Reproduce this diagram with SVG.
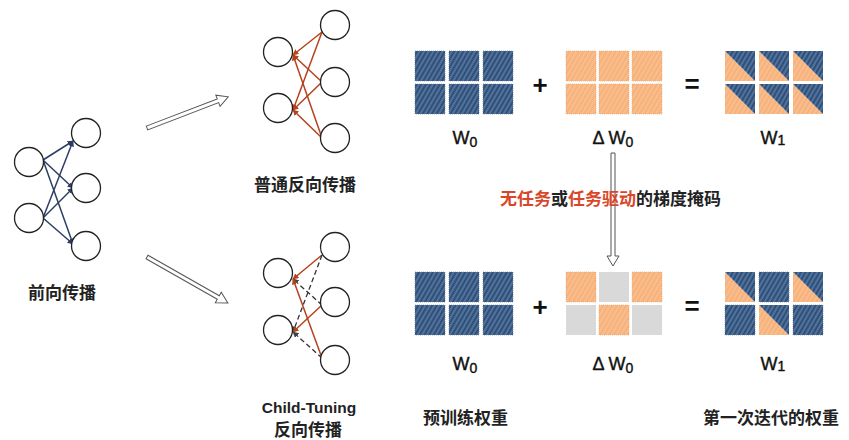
<svg xmlns="http://www.w3.org/2000/svg" width="849" height="440" viewBox="0 0 849 440">
<style>
.node{fill:#fff;stroke:#222;stroke-width:1.3}
.fwd{stroke:#2c3e63;stroke-width:1.5;fill:none;marker-end:url(#mNavy)}
.bwd{stroke:#b5421c;stroke-width:1.5;fill:none;marker-end:url(#mRed)}
.dash{stroke:#333;stroke-width:1.3;fill:none;stroke-dasharray:5 3;marker-end:url(#mGrey)}
.big{fill:#fff;stroke:#555;stroke-width:1}
.cj{font-family:"Noto Sans CJK SC","Noto Sans",sans-serif;font-weight:bold;font-size:17px;fill:#222}
.lat{font-family:"Liberation Sans",Arial,sans-serif;font-size:18px;fill:#111;stroke:#111;stroke-width:0.4}
.ct{font-family:"Liberation Sans",Arial,sans-serif;font-size:15.5px;font-weight:bold;fill:#222}
.red{fill:#d9472b}
.b{fill:url(#hb);stroke:#5b7aa0;stroke-width:0.6;stroke-dasharray:1 1}
.o{fill:url(#ho);stroke:#e8a06a;stroke-width:0.6;stroke-dasharray:1 1}
.g{fill:#d9d9d9}
.tb{fill:url(#hb)}
.to{fill:url(#ho)}
.op{font-family:"Liberation Sans",Arial,sans-serif;font-size:26px;font-weight:bold;fill:#111}
</style>
<defs>
<pattern id="hb" patternUnits="userSpaceOnUse" width="4" height="4" patternTransform="rotate(30)">
<rect width="4" height="4" fill="#30507a"/>
<line x1="1" y1="0" x2="1" y2="4" stroke="#8fb0d6" stroke-width="0.7"/>
</pattern>
<pattern id="ho" patternUnits="userSpaceOnUse" width="4" height="4" patternTransform="rotate(30)">
<rect width="4" height="4" fill="#f7b27c"/>
<line x1="1" y1="0" x2="1" y2="4" stroke="#fcd3ab" stroke-width="0.7"/>
</pattern>
<marker id="mNavy" viewBox="0 0 10 10" refX="9" refY="5" markerWidth="6" markerHeight="6" orient="auto" markerUnits="userSpaceOnUse"><path d="M0,0 L10,5 L0,10 z" fill="#2c3e63"/></marker>
<marker id="mRed" viewBox="0 0 10 10" refX="9" refY="5" markerWidth="6" markerHeight="6" orient="auto" markerUnits="userSpaceOnUse"><path d="M0,0 L10,5 L0,10 z" fill="#b5421c"/></marker>
<marker id="mGrey" viewBox="0 0 10 10" refX="9" refY="5" markerWidth="6" markerHeight="6" orient="auto" markerUnits="userSpaceOnUse"><path d="M0,0 L10,5 L0,10 z" fill="#444"/></marker>
</defs>
<rect width="849" height="440" fill="#fff"/>

<g id="connectors">
<path class="fwd" d="M43,160 L73,141"/>
<path class="fwd" d="M43,160 L73,188"/>
<path class="fwd" d="M43,160 L73,244"/>
<path class="fwd" d="M43,218 L73,141"/>
<path class="fwd" d="M43,218 L73,188"/>
<path class="fwd" d="M43,218 L73,244"/>
<path class="bwd" d="M322,32 L293,55"/>
<path class="bwd" d="M322,32 L293,110"/>
<path class="bwd" d="M322,82 L293,55"/>
<path class="bwd" d="M322,82 L293,110"/>
<path class="bwd" d="M322,138 L293,55"/>
<path class="bwd" d="M322,138 L293,110"/>
<path class="bwd" d="M322,255 L293,279"/>
<path class="dash" d="M322,255 L293,332"/>
<path class="dash" d="M322,305 L293,279"/>
<path class="bwd" d="M322,305 L293,332"/>
<path class="bwd" d="M322,358 L293,279"/>
<path class="dash" d="M322,358 L293,332"/>
<polygon class="big" transform="translate(147,128) rotate(-21)" points="0,-2 76,-2 76,-6 87,0 76,6 76,2 0,2"/>
<polygon class="big" transform="translate(147,257) rotate(29.6)" points="0,-2 82,-2 82,-6 93,0 82,6 82,2 0,2"/>
<polygon class="big" transform="translate(613,153) rotate(90)" points="0,-2 103,-2 103,-6 113,0 103,6 103,2 0,2"/>
</g>

<g id="forward-net">
<circle class="node" cx="29" cy="162" r="14.5"/>
<circle class="node" cx="29" cy="218" r="14.5"/>
<circle class="node" cx="86" cy="133" r="14.5"/>
<circle class="node" cx="86" cy="188" r="14.5"/>
<circle class="node" cx="86" cy="246" r="14.5"/>
<text class="cj" x="62" y="299" text-anchor="middle">前向传播</text>
</g>

<g id="normal-backward-net">
<circle class="node" cx="335" cy="25" r="14.5"/>
<circle class="node" cx="335" cy="82" r="14.5"/>
<circle class="node" cx="335" cy="138" r="14.5"/>
<circle class="node" cx="278" cy="52" r="14.5"/>
<circle class="node" cx="278" cy="108" r="14.5"/>
<text class="cj" x="305" y="191" text-anchor="middle">普通反向传播</text>
</g>

<g id="child-tuning-net">
<circle class="node" cx="335" cy="247" r="14.5"/>
<circle class="node" cx="335" cy="302" r="14.5"/>
<circle class="node" cx="335" cy="360" r="14.5"/>
<circle class="node" cx="278" cy="273" r="14.5"/>
<circle class="node" cx="278" cy="330" r="14.5"/>
<text class="ct" x="309" y="413" text-anchor="middle">Child-Tuning</text>
<text class="cj" x="308" y="436" text-anchor="middle">反向传播</text>
</g>

<g id="top-W0">
<rect class="b" x="415" y="51" width="30" height="30"/>
<rect class="b" x="449" y="51" width="30" height="30"/>
<rect class="b" x="483" y="51" width="30" height="30"/>
<rect class="b" x="415" y="84" width="30" height="30"/>
<rect class="b" x="449" y="84" width="30" height="30"/>
<rect class="b" x="483" y="84" width="30" height="30"/>
<text class="lat" x="465" y="144" text-anchor="middle">W<tspan font-size="14" dy="3">0</tspan></text>
</g>
<text class="op" x="540" y="94" text-anchor="middle">+</text>
<g id="top-dW0">
<rect class="o" x="566" y="51" width="30" height="30"/>
<rect class="o" x="599" y="51" width="30" height="30"/>
<rect class="o" x="632" y="51" width="30" height="30"/>
<rect class="o" x="566" y="84" width="30" height="30"/>
<rect class="o" x="599" y="84" width="30" height="30"/>
<rect class="o" x="632" y="84" width="30" height="30"/>
<text class="lat" x="613" y="144" text-anchor="middle">Δ W<tspan font-size="14" dy="3">0</tspan></text>
</g>
<text class="op" x="692" y="93" text-anchor="middle">=</text>
<g id="top-W1">
<g transform="translate(725,51)"><polygon class="to" points="0,0 0,30 30,30"/><polygon class="tb" points="0,0 30,0 30,30"/></g>
<g transform="translate(759,51)"><polygon class="to" points="0,0 0,30 30,30"/><polygon class="tb" points="0,0 30,0 30,30"/></g>
<g transform="translate(793,51)"><polygon class="to" points="0,0 0,30 30,30"/><polygon class="tb" points="0,0 30,0 30,30"/></g>
<g transform="translate(725,84)"><polygon class="to" points="0,0 0,30 30,30"/><polygon class="tb" points="0,0 30,0 30,30"/></g>
<g transform="translate(759,84)"><polygon class="to" points="0,0 0,30 30,30"/><polygon class="tb" points="0,0 30,0 30,30"/></g>
<g transform="translate(793,84)"><polygon class="to" points="0,0 0,30 30,30"/><polygon class="tb" points="0,0 30,0 30,30"/></g>
<text class="lat" x="773" y="144" text-anchor="middle">W<tspan font-size="14" dy="1">1</tspan></text>
</g>

<g id="mask-label">
<text class="cj" x="500" y="205"><tspan class="red">无任务</tspan>或<tspan class="red">任务驱动</tspan>的梯度掩码</text>
</g>

<g id="bottom-W0">
<rect class="b" x="415" y="272" width="30" height="30"/>
<rect class="b" x="449" y="272" width="30" height="30"/>
<rect class="b" x="483" y="272" width="30" height="30"/>
<rect class="b" x="415" y="305" width="30" height="30"/>
<rect class="b" x="449" y="305" width="30" height="30"/>
<rect class="b" x="483" y="305" width="30" height="30"/>
<text class="lat" x="465" y="370" text-anchor="middle">W<tspan font-size="14" dy="3">0</tspan></text>
</g>
<text class="op" x="540" y="316" text-anchor="middle">+</text>
<g id="bottom-dW0">
<rect class="o" x="566" y="272" width="30" height="30"/>
<rect class="g" x="599" y="272" width="30" height="30"/>
<rect class="o" x="632" y="272" width="30" height="30"/>
<rect class="g" x="566" y="305" width="30" height="30"/>
<rect class="o" x="599" y="305" width="30" height="30"/>
<rect class="g" x="632" y="305" width="30" height="30"/>
<text class="lat" x="613" y="370" text-anchor="middle">Δ W<tspan font-size="14" dy="3">0</tspan></text>
</g>
<text class="op" x="692" y="315" text-anchor="middle">=</text>
<g id="bottom-W1">
<g transform="translate(725,272)"><polygon class="to" points="0,0 0,30 30,30"/><polygon class="tb" points="0,0 30,0 30,30"/></g>
<rect class="b" x="759" y="272" width="30" height="30"/>
<g transform="translate(793,272)"><polygon class="to" points="0,0 0,30 30,30"/><polygon class="tb" points="0,0 30,0 30,30"/></g>
<rect class="b" x="725" y="305" width="30" height="30"/>
<g transform="translate(759,305)"><polygon class="to" points="0,0 0,30 30,30"/><polygon class="tb" points="0,0 30,0 30,30"/></g>
<rect class="b" x="793" y="305" width="30" height="30"/>
<text class="lat" x="773" y="370" text-anchor="middle">W<tspan font-size="14" dy="1">1</tspan></text>
</g>

<g id="captions">
<text class="cj" x="423" y="424">预训练权重</text>
<text class="cj" x="703" y="424">第一次迭代的权重</text>
</g>
</svg>
